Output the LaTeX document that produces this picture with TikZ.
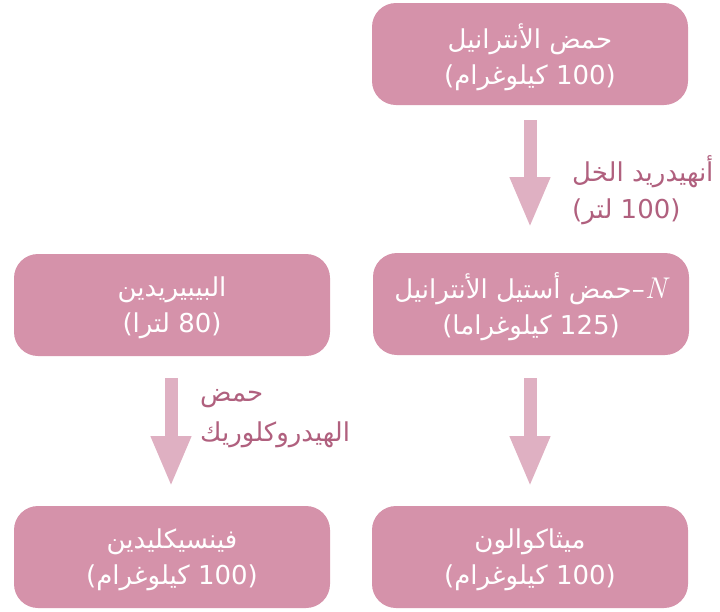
\documentclass[tikz,border=0pt]{standalone}
\usepackage{fontspec}
\usetikzlibrary{arrows.meta}
\TeXXeTstate=1
\newfontfamily\arabicfont[Script=Arabic]{DejaVu Sans}
\newfontfamily\lmfont{Latin Modern Roman}
\definecolor{boxfill}{HTML}{D592AA}
\definecolor{arrowfill}{HTML}{DFB0C2}
\definecolor{labeltext}{HTML}{B0607E}
\newcommand{\bigN}{{\lmfont\itshape\fontsize{30}{30}\selectfont N\kern1pt}}
\tikzset{
  chembox/.style={draw=none, fill=boxfill, rounded corners=24pt,
    minimum width=316pt, minimum height=102pt, inner sep=0pt},
  boxtext/.style={align=center, text=white, yshift=-3pt, inner sep=0pt,
    font=\arabicfont\fontsize{26}{36}\selectfont},
  flowarrow/.style={draw=arrowfill, line width=13pt,
    -{Triangle[width=37pt,length=51pt]}},
  steplabel/.style={anchor=west, align=left, text=labeltext,
    font=\arabicfont\fontsize{26}{37}\selectfont, inner sep=0pt}
}
\begin{document}
\begin{tikzpicture}[x=1pt,y=-1pt]
\useasboundingbox (0,0) rectangle (720,611);
\node[chembox, label={[boxtext]center:{\beginR حمض الأنترانيل\endR\\\beginR(\beginL100\endL{} كيلوغرام)\endR}}] (anth) at (530,54) {};
\node[chembox, label={[boxtext]center:{\beginR\beginL\bigN\endL–حمض أستيل الأنترانيل\endR\\\beginR(\beginL125\endL{} كيلوغراما)\endR}}] (acet) at (531,304) {};
\node[chembox, label={[boxtext]center:{\beginR البيبيريدين\endR\\\beginR(\beginL80\endL{} لترا)\endR}}] (pip) at (172,305) {};
\node[chembox, label={[boxtext]center:{\beginR فينسيكليدين\endR\\\beginR(\beginL100\endL{} كيلوغرام)\endR}}] (pcp) at (172,557) {};
\node[chembox, label={[boxtext]center:{\beginR ميثاكوالون\endR\\\beginR(\beginL100\endL{} كيلوغرام)\endR}}] (meth) at (530,557) {};
\coordinate (a1s) at (530,120);
\coordinate (a1e) at (530,228);
\coordinate (a2s) at (171,378);
\coordinate (a2e) at (171,487);
\coordinate (a3s) at (530,378);
\coordinate (a3e) at (530,487);
\draw[flowarrow] (a1s) -- (a1e);
\draw[flowarrow] (a2s) -- (a2e);
\draw[flowarrow] (a3s) -- (a3e);
\node[steplabel] (lab1) at (572,190) {\beginR أنهيدريد الخل\endR\\\beginR(\beginL100\endL{} لتر)\endR};
\node[steplabel, font=\arabicfont\fontsize{26}{40}\selectfont] (lab2) at (200,419) {\beginR حمض\endR\\\beginR الهيدروكلوريك\endR};
\end{tikzpicture}
\end{document}
